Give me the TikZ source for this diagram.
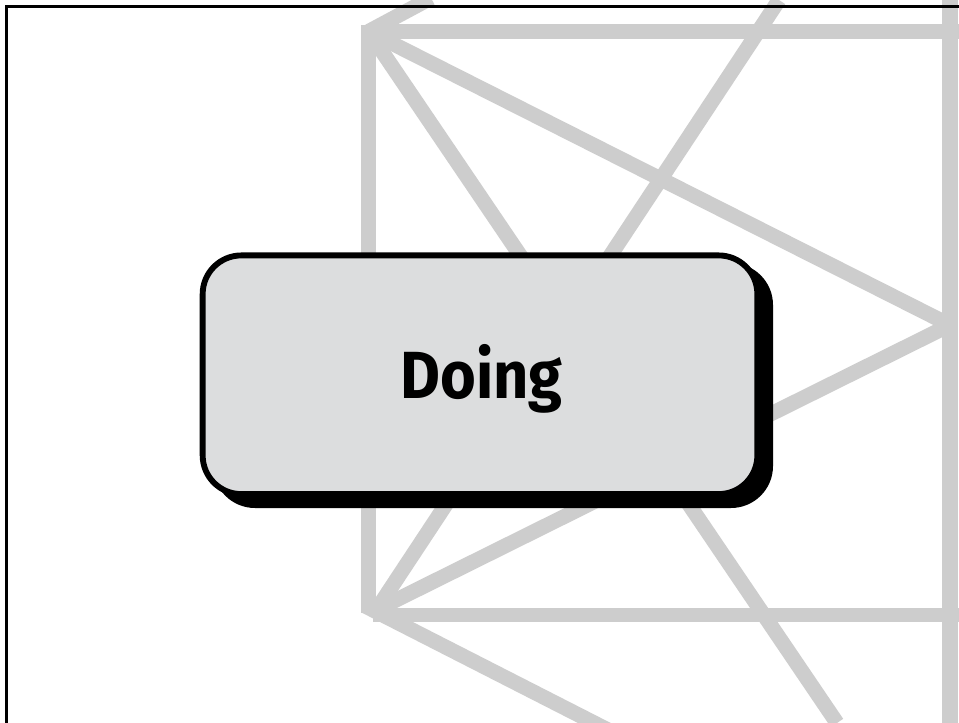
\documentclass[tikz,border=0pt]{standalone}
\usepackage{fontspec}
\setmainfont{Fira Sans}
\tikzset{
  strut/.style={draw=latticegrey,line width=11.2pt,line cap=butt},
  wideStrut/.style={draw=latticegrey,line width=12.2pt,line cap=butt},
  doingbox/.style={rectangle,rounded corners=29pt,draw=black,line width=4.4pt,fill=boxgrey,minimum width=416pt,minimum height=179pt,inner sep=0pt},
  shadowbox/.style={rectangle,rounded corners=31.5pt,fill=black,minimum width=420pt,minimum height=183.75pt,inner sep=0pt},
  frameline/.style={draw=black,line width=2.1pt,line cap=butt}
}
\definecolor{latticegrey}{HTML}{CDCDCD}
\definecolor{boxgrey}{HTML}{DCDDDE}
\begin{document}
\begin{tikzpicture}[x=0.75pt,y=-0.75pt]
\useasboundingbox (0,0) rectangle (959,723);
\fill[white] (0,0) rectangle (959,723);
\coordinate (tl) at (368.5,31.5);
\coordinate (tlv) at (368.5,25);
\coordinate (bl) at (368.5,612.5);
\coordinate (bj) at (373,615);
\coordinate (bc) at (376,610);
\coordinate (be) at (375,612);
\coordinate (bd) at (364.5,605.7);
\coordinate (tr) at (959,31.5);
\coordinate (br) at (959,615);
\coordinate (rv1) at (950,0);
\coordinate (rv2) at (950,723);
\coordinate (rm) at (950,325);
\coordinate (a1) at (431,-2);
\coordinate (a2) at (837,723);
\coordinate (a3) at (779,0);
\coordinate (a4) at (612,732);
\draw[strut] (tlv) -- (bl);
\draw[strut] (tl) -- (tr);
\draw[strut] (bj) -- (br);
\draw[wideStrut] (rv1) -- (rv2);
\draw[strut] (tl) -- (rm);
\draw[strut] (tl) -- (a1);
\draw[strut] (tl) -- (a2);
\draw[strut] (a3) -- (be);
\draw[strut] (rm) -- (bc);
\draw[strut] (bd) -- (a4);
\draw[frameline] (6.8,723) -- (6.8,6.2) -- (959,6.2);
\node[shadowbox] (shadow) at (493,385.5) {};
\node[doingbox] (box) at (480,374.75) {};
\node[font=\bfseries,inner sep=0pt,anchor=center] (label) at (481.5,379) {\fontsize{50}{60}\selectfont\scalebox{0.92}[1]{Doing}};
\end{tikzpicture}
\end{document}
